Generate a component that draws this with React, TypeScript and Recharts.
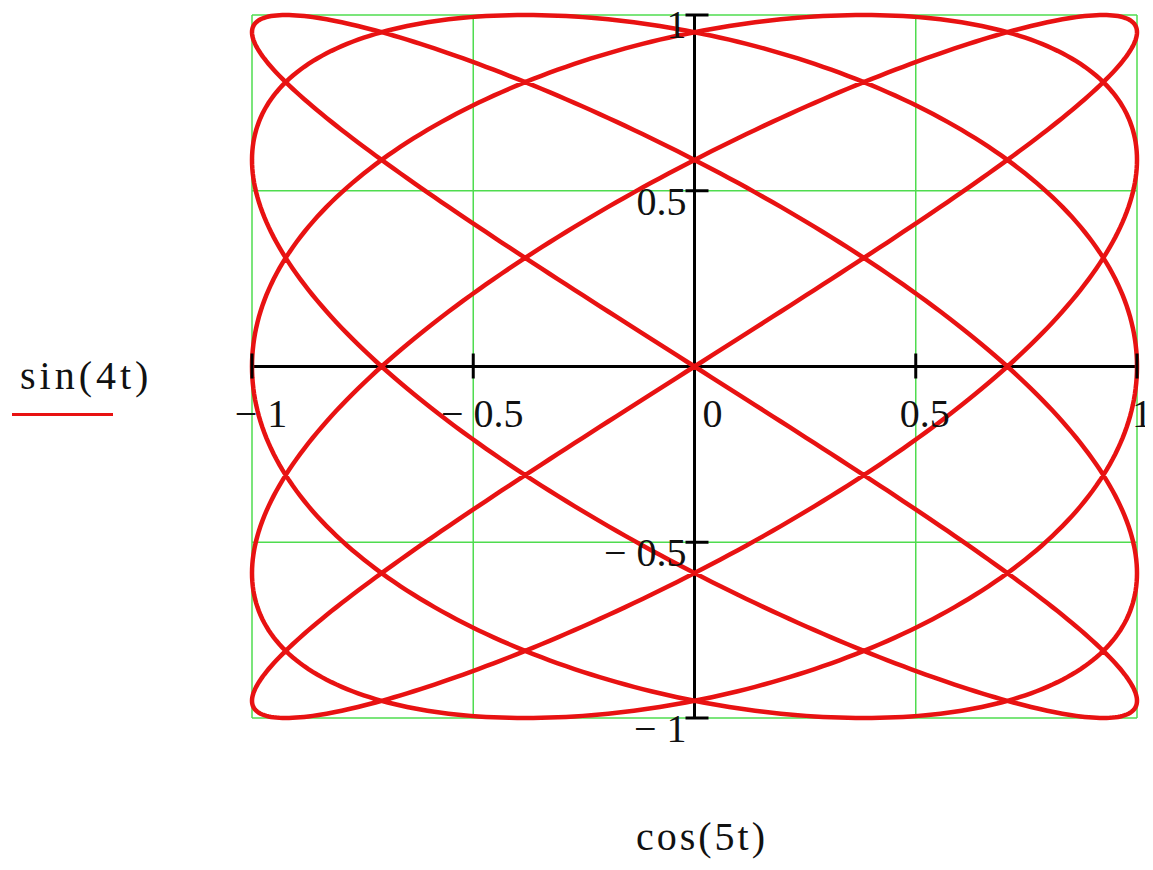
import React from 'react'
import { LineChart, Line, XAxis, YAxis, ReferenceLine, ReferenceDot } from 'recharts'

const C = {
  curve: '#e81212',
  grid: '#4fdc4f',
  axis: '#000000',
  text: '#111111',
}

const FONT = '"Liberation Serif", "Times New Roman", serif'

// parameter samples over one full period, t in [0, 2π]
const STEPS = 1600
const PARAM_T = Array.from({ length: STEPS + 1 }, (_, i) => (i / STEPS) * 2 * Math.PI)

// x = cos(5t), y = sin(4t)
const curve = PARAM_T.map(t => ({ x: Math.cos(5 * t), y: Math.sin(4 * t) }))

const X_TICKS = [-1, -0.5, 0, 0.5, 1]
const X_LABELS = ['\u2212 1', '\u2212 0.5', '0', '0.5', '1']
const Y_TICKS = [1, 0.5, -0.5, -1]
const Y_LABELS = ['1', '0.5', '\u2212 0.5', '\u2212 1']
const GRID = [-0.5, 0.5]
const BORDER = [-1, 1]

const W = 1145
const H = 862

function XTick({ cx, cy, v, label }: any) {
  const dx = v === 0 ? 18 : v === 1 ? 5 : 9
  return (
    <g>
      {v !== 0 && <line x1={cx} x2={cx} y1={cy - 13} y2={cy + 12} stroke={C.axis} strokeWidth={3} />}
      <text x={cx + dx} y={cy + 60} textAnchor="middle" fontFamily={FONT} fontSize={40} fill={C.text}>{label}</text>
    </g>
  )
}

function YTick({ cx, cy, v, label }: any) {
  // top label is pushed down so it stays inside the frame
  const base = v === 1 ? cy + 23 : cy + 24
  return (
    <g>
      <line x1={cx - 9} x2={cx + 14} y1={cy} y2={cy} stroke={C.axis} strokeWidth={3} />
      <text x={cx - 8} y={base} textAnchor="end" fontFamily={FONT} fontSize={40} fill={C.text}>{label}</text>
    </g>
  )
}

export default function App() {
  return (
    <div style={{ position: 'relative', width: W, height: H }}>
      <LineChart width={W} height={H} data={curve} margin={{ top: 7, right: 16, bottom: 152, left: 244 }}>
        <XAxis type="number" dataKey="x" domain={[-1, 1]} hide />
        <YAxis type="number" dataKey="y" domain={[-1, 1]} hide />

        {/* green grid + frame */}
        {GRID.map(v => <ReferenceLine key={'gx' + v} x={v} stroke={C.grid} strokeWidth={1.5} />)}
        {GRID.map(v => <ReferenceLine key={'gy' + v} y={v} stroke={C.grid} strokeWidth={1.5} />)}
        {BORDER.map(v => <ReferenceLine key={'bx' + v} x={v} stroke={C.grid} strokeWidth={1.5} />)}
        {BORDER.map(v => <ReferenceLine key={'by' + v} y={v} stroke={C.grid} strokeWidth={1.5} />)}

        {/* crossing axes */}
        <ReferenceLine x={0} stroke={C.axis} strokeWidth={3} />
        <ReferenceLine y={0} stroke={C.axis} strokeWidth={3} />

        {X_TICKS.map((v, i) => (
          <ReferenceDot key={'xt' + v} x={v} y={0} r={1} ifOverflow="visible"
            shape={(p: any) => <XTick cx={p.cx} cy={p.cy} v={v} label={X_LABELS[i]} />} />
        ))}
        {Y_TICKS.map((v, i) => (
          <ReferenceDot key={'yt' + v} x={0} y={v} r={1} ifOverflow="visible"
            shape={(p: any) => <YTick cx={p.cx} cy={p.cy} v={v} label={Y_LABELS[i]} />} />
        ))}

        <Line type="linear" dataKey="y" stroke={C.curve} strokeWidth={4.5} dot={false} activeDot={false} isAnimationActive={false} />
      </LineChart>

      {/* axis titles */}
      <div style={{ position: 'absolute', left: 12, top: 348, fontFamily: FONT, fontSize: 40, lineHeight: '40px', letterSpacing: 4, color: C.text, whiteSpace: 'nowrap' }}>
        sin(4t)
      </div>
      <div style={{ position: 'absolute', left: 4, top: 405, width: 101, height: 3, background: C.curve }} />
      <div style={{ position: 'absolute', left: 594, top: 809, width: 200, textAlign: 'center', fontFamily: FONT, fontSize: 40, lineHeight: '40px', letterSpacing: 3, color: C.text, whiteSpace: 'nowrap' }}>
        cos(5t)
      </div>
    </div>
  )
}
